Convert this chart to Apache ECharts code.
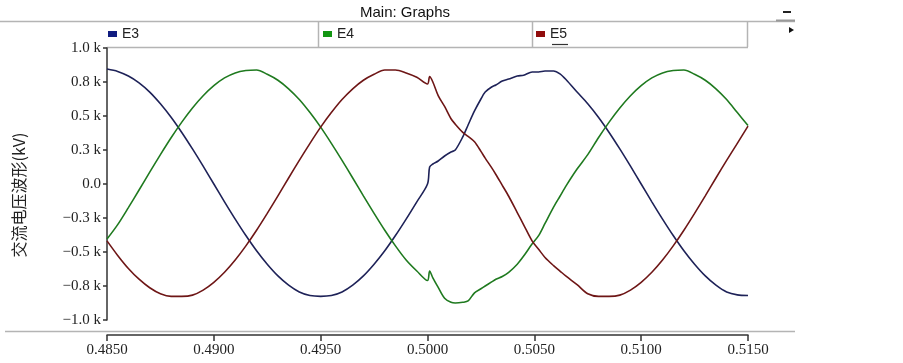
<!DOCTYPE html>
<html>
<head>
<meta charset="utf-8">
<script src="https://cdn.jsdelivr.net/npm/echarts@6/dist/echarts.min.js"></script>
<style>
html, body { margin: 0; padding: 0; background: #fff; }
#chart { width: 903px; height: 363px; }
</style>
</head>
<body>
<div id="chart"></div>
<script>
// time (s) shared by the three phases; denser around the disturbance at 0.5000 s
const timeS = [
  0.4850, 0.4855, 0.4860, 0.4865, 0.4870, 0.4875, 0.4880, 0.4885, 0.4890, 0.4895,
  0.4900, 0.4905, 0.4910, 0.4915, 0.4920, 0.4925, 0.4930, 0.4935, 0.4940, 0.4945,
  0.4950, 0.4955, 0.4960, 0.4965, 0.4970, 0.4975, 0.4980, 0.4985, 0.4990, 0.4995,
  0.5000,
  0.50010, 0.50025, 0.50050, 0.50080, 0.50110, 0.50130, 0.50165, 0.50190, 0.50220, 0.50250,
  0.50270, 0.50300, 0.50320, 0.50350, 0.50380, 0.50420, 0.50450, 0.50490, 0.50520, 0.50550,
  0.50590, 0.50620, 0.50650, 0.50700,
  0.5075, 0.5080, 0.5085, 0.5090, 0.5095, 0.5100, 0.5105, 0.5110, 0.5115, 0.5120,
  0.5125, 0.5130, 0.5135, 0.5140, 0.5145, 0.5150
]

// phase voltages in kV
const e3 = [
  0.845, 0.828, 0.794, 0.744, 0.676, 0.590, 0.491, 0.379, 0.258, 0.131,
  0.000, -0.131, -0.258, -0.379, -0.491, -0.590, -0.676, -0.744, -0.794, -0.820,
  -0.826, -0.820, -0.794, -0.744, -0.676, -0.590, -0.491, -0.379, -0.258, -0.131,
  0.000,
  0.125, 0.147, 0.169, 0.206, 0.235, 0.250, 0.346, 0.434, 0.537, 0.625,
  0.676, 0.713, 0.728, 0.757, 0.772, 0.794, 0.800, 0.824, 0.824, 0.831,
  0.831, 0.810, 0.765, 0.676,
  0.590, 0.491, 0.379, 0.258, 0.131, 0.000, -0.131, -0.258, -0.379, -0.491,
  -0.590, -0.676, -0.744, -0.794, -0.815, -0.820
]

const e4 = [
  -0.405, -0.299, -0.174, -0.044, 0.087, 0.216, 0.340, 0.455, 0.559, 0.649,
  0.723, 0.780, 0.817, 0.834, 0.838, 0.807, 0.763, 0.700, 0.621, 0.525,
  0.418, 0.299, 0.174, 0.044, -0.087, -0.216, -0.340, -0.455, -0.559, -0.640,
  -0.710,
  -0.640, -0.690, -0.760, -0.840, -0.870, -0.875, -0.870, -0.860, -0.800, -0.770,
  -0.750, -0.720, -0.700, -0.680, -0.650, -0.590, -0.530, -0.440, -0.380, -0.290,
  -0.170, -0.090, -0.010, 0.110,
  0.216, 0.340, 0.455, 0.559, 0.649, 0.723, 0.780, 0.817, 0.834, 0.838,
  0.807, 0.763, 0.700, 0.621, 0.525, 0.430
]

const e5 = [
  -0.418, -0.525, -0.621, -0.700, -0.763, -0.807, -0.826, -0.826, -0.817, -0.780,
  -0.723, -0.649, -0.559, -0.455, -0.340, -0.216, -0.087, 0.044, 0.174, 0.299,
  0.418, 0.525, 0.621, 0.700, 0.763, 0.807, 0.838, 0.838, 0.817, 0.785,
  0.735,
  0.790, 0.750, 0.650, 0.570, 0.480, 0.440, 0.380, 0.350, 0.310, 0.240,
  0.190, 0.120, 0.070, -0.010, -0.090, -0.210, -0.300, -0.420, -0.480, -0.540,
  -0.600, -0.640, -0.680, -0.740,
  -0.807, -0.826, -0.826, -0.817, -0.780, -0.723, -0.649, -0.559, -0.455, -0.340,
  -0.216, -0.087, 0.044, 0.174, 0.299, 0.425
]

const seriesNames = ['E3', 'E4', 'E5']
const lineColors = ['#1e2258', '#1f7a1f', '#6e1616']
const legendColors = ['#101c80', '#129612', '#900c0c']

const xTickLabels = ['0.4850', '0.4900', '0.4950', '0.5000', '0.5050', '0.5100', '0.5150']
const yTickValues = [-1, -0.75, -0.5, -0.25, 0, 0.25, 0.5, 0.75, 1]
const yTickLabels = ['\u22121.0 k', '\u22120.8 k', '\u22120.5 k', '\u22120.3 k', '0.0', '0.3 k', '0.5 k', '0.8 k', '1.0 k']

const chart = echarts.init(document.getElementById('chart'))

const pairs = (vals) => timeS.map((t, i) => [t, vals[i]])
const frame = { stroke: '#b4b4b4', lineWidth: 1.5 }
const legendLefts = [108, 323, 536]

chart.setOption({
  animation: false,
  title: {
    text: 'Main: Graphs',
    left: 355,
    top: 0,
    textStyle: { fontFamily: 'Liberation Sans', fontSize: 15, fontWeight: 'normal', color: '#111' },
  },
  legend: seriesNames.map((name, i) => ({
    data: [{ name, itemStyle: { color: legendColors[i] } }],
    left: legendLefts[i],
    top: 27,
    padding: 0,
    icon: 'rect',
    itemWidth: 9,
    itemHeight: 6,
    itemGap: 5,
    selectedMode: false,
    textStyle: { fontFamily: 'Liberation Sans', fontSize: 14, color: '#222' },
  })),
  grid: { left: 107, right: 155, top: 48, bottom: 43, containLabel: false },
  xAxis: {
    type: 'value',
    min: 0.485,
    max: 0.515,
    interval: 0.005,
    offset: 15,
    axisLine: { onZero: false, lineStyle: { color: '#333', width: 1.5 } },
    axisTick: { length: 6, lineStyle: { color: '#333', width: 1.5 } },
    axisLabel: {
      margin: 8,
      fontFamily: 'Liberation Serif',
      fontSize: 15,
      color: '#222',
      formatter: (v) => xTickLabels[Math.round((v - 0.485) / 0.005)],
    },
    splitLine: { show: false },
  },
  yAxis: {
    type: 'value',
    min: -1,
    max: 1,
    interval: 0.25,
    name: '交流电压波形(kV)',
    nameLocation: 'middle',
    nameGap: 80,
    nameTextStyle: { fontFamily: 'Noto Sans CJK SC', fontSize: 16, color: '#222', padding: [0, 22, 0, 0] },
    axisLine: { show: true, onZero: false, lineStyle: { color: '#333', width: 1.5 } },
    axisTick: { show: true, length: 4, lineStyle: { color: '#333', width: 1.5 } },
    axisLabel: {
      margin: 6,
      fontFamily: 'Liberation Serif',
      fontSize: 15,
      color: '#222',
      formatter: (v) => yTickLabels[yTickValues.findIndex((t) => Math.abs(t - v) < 1e-6)],
    },
    splitLine: { show: false },
  },
  graphic: [
    { type: 'line', shape: { x1: 0, y1: 21.5, x2: 795, y2: 21.5 }, style: frame },
    { type: 'line', shape: { x1: 107, y1: 47.5, x2: 748, y2: 47.5 }, style: frame },
    { type: 'line', shape: { x1: 318.5, y1: 21, x2: 318.5, y2: 47 }, style: frame },
    { type: 'line', shape: { x1: 532.5, y1: 21, x2: 532.5, y2: 47 }, style: frame },
    { type: 'line', shape: { x1: 747.5, y1: 21, x2: 747.5, y2: 47 }, style: frame },
    { type: 'line', shape: { x1: 5, y1: 331.5, x2: 795, y2: 331.5 }, style: frame },
    { type: 'line', shape: { x1: 776, y1: 20.5, x2: 795, y2: 20.5 }, style: { stroke: '#999', lineWidth: 2 } },
    { type: 'rect', shape: { x: 783, y: 11, width: 8, height: 2 }, style: { fill: '#222' } },
    { type: 'polygon', shape: { points: [[789, 27], [794, 30], [789, 33]] }, style: { fill: '#111' } },
    { type: 'line', shape: { x1: 552, y1: 44.5, x2: 568, y2: 44.5 }, style: { stroke: '#333', lineWidth: 1.2 } },
  ],
  series: [e3, e4, e5].map((vals, i) => ({
    name: seriesNames[i],
    type: 'line',
    data: pairs(vals),
    smooth: 0.3,
    showSymbol: false,
    color: lineColors[i],
    lineStyle: { width: 1.6, color: lineColors[i] },
  })),
})
</script>
</body>
</html>
